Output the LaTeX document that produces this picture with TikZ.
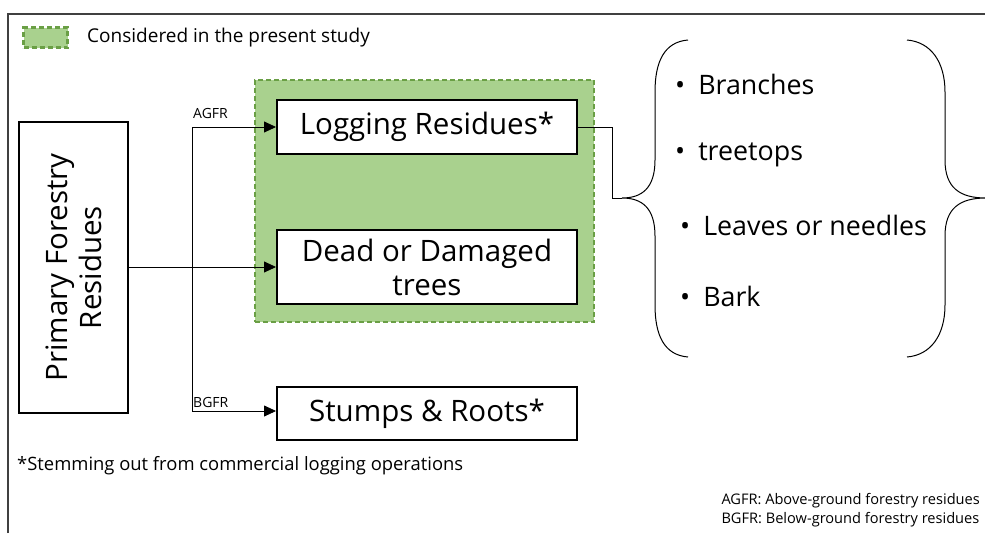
\documentclass[tikz,border=0pt]{standalone}
\usepackage{fontspec}
\setmainfont{Open Sans}
\usetikzlibrary{arrows.meta}
\definecolor{gfill}{HTML}{A9D18E}
\definecolor{gline}{HTML}{6A9F45}
\definecolor{frame}{HTML}{404040}
\tikzset{
  box/.style={draw=black, line width=2pt, fill=white, inner sep=0pt, align=center},
  conn/.style={draw=black, line width=0.8pt},
  tip/.style={-{Triangle[length=12pt,width=11pt]}},
  lbl/.style={inner sep=0pt, anchor=west},
  brace/.style={draw=black, line width=1pt},
  gdash/.style={draw=gline, fill=gfill, line width=2.6pt, dash pattern=on 5pt off 3pt, inner sep=0pt},
  bigtxt/.style={font=\fontsize{29.5}{34}\selectfont},
  itemtxt/.style={lbl, font=\fontsize{26.8}{32}\selectfont},
}
\begin{document}
\begin{tikzpicture}[x=1pt,y=-1pt]
\useasboundingbox (0,0) rectangle (985,533);
% frame
\draw[frame, line width=1.3pt] (8,533) -- (8,14) -- (985,14);
% legend
\node[gdash, minimum width=44pt, minimum height=20pt] (legsw) at (45.5,37.5) {};
\node[lbl, font=\fontsize{19}{22}\selectfont] (legtx) at (87,38) {Considered in the present study};
% green region
\node[gdash, minimum width=339pt, minimum height=242pt] (region) at (424.5,201) {};
% boxes
\node[box, minimum width=109pt, minimum height=291pt] (prim) at (73.5,267.5) {};
\node[rotate=90, align=center, bigtxt, inner sep=0pt] (primtx) at (73.5,267.5) {Primary Forestry\\Residues};
\node[box, minimum width=300pt, minimum height=54pt, bigtxt] (log) at (427,127) {Logging Residues*};
\node[box, minimum width=300pt, minimum height=74pt, bigtxt] (dead) at (427,267) {Dead or Damaged\\trees};
\node[box, minimum width=300pt, minimum height=53pt, bigtxt] (stump) at (427,413.5) {Stumps \& Roots*};
% connectors
\coordinate (jt) at (192,127);
\coordinate (jb) at (192,411);
\draw[conn] (jt) -- (jb);
\draw[conn, tip] (jt) -- (log.west);
\draw[conn, tip] (prim.east |- dead.west) -- (dead.west);
\draw[conn, tip] (jb) -- (stump.west |- jb);
\node[lbl, font=\fontsize{14}{16}\selectfont] (agfr) at (193,113) {AGFR};
\node[lbl, font=\fontsize{14}{16}\selectfont] (bgfr) at (193,402) {BGFR};
% braces
\coordinate (btip) at (622,198);
\coordinate (bk) at (612,198);
\draw[conn] (log.east) -- (log.east -| bk) -- (bk) -- (btip);
\draw[brace] (688,40) .. controls (664,42) and (655,62) .. (655,92) -- (655,160)
  .. controls (655,188) and (642,198) .. (btip)
  .. controls (642,198) and (655,208) .. (655,236) -- (655,305)
  .. controls (655,335) and (664,355) .. (688,357);
\coordinate (rtip) at (986,198);
\draw[brace] (907,40) .. controls (931,42) and (945,62) .. (945,92) -- (945,160)
  .. controls (945,188) and (960,198) .. (rtip)
  .. controls (960,198) and (945,208) .. (945,236) -- (945,305)
  .. controls (945,335) and (931,355) .. (907,357);
% items
\node[itemtxt] (i1) at (675,84) {•\hspace{13pt}Branches};
\node[itemtxt] (i2) at (675,155) {•\hspace{13pt}treetops};
\node[itemtxt] (i3) at (680,225) {•\hspace{13pt}Leaves or needles};
\node[itemtxt] (i4) at (680,296) {•\hspace{13pt}Bark};
% footnotes
\node[lbl, font=\fontsize{18.4}{22}\selectfont] (foot) at (17,466) {*Stemming out from commercial logging operations};
\node[inner sep=0pt, anchor=east, align=left, font=\fontsize{14.6}{19}\selectfont] (abbr) at (980,510) {AGFR: Above-ground forestry residues\\BGFR: Below-ground forestry residues};
\end{tikzpicture}
\end{document}
